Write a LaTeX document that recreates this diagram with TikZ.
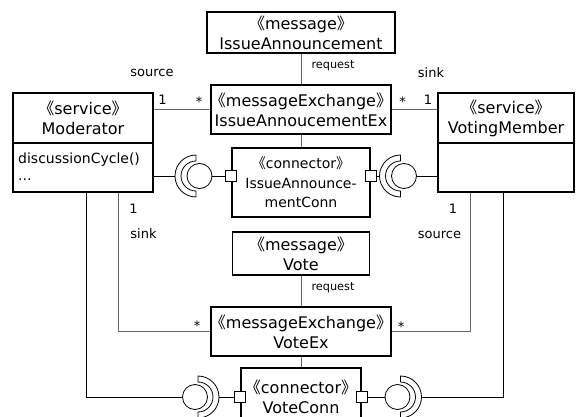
\documentclass[tikz,border=0pt]{standalone}
\usepackage{fontspec}
\setmainfont{DejaVu Sans}
\newfontfamily\cjkbr[RawFeature=+halt]{Noto Sans CJK SC}
\usetikzlibrary{calc}
% UML stereotype in double angle brackets
\newcommand\stereo[1]{{\cjkbr\kern1pt《}#1{\cjkbr 》\kern1pt}}

\begin{document}
\begin{tikzpicture}[x=1pt,y=-1pt,
  box/.style={draw=black,line width=1.5pt,inner sep=0pt,align=center,
              font=\fontsize{16}{20}\selectfont},
  assoc/.style={draw=black!60,line width=0.9pt},
  asm/.style={draw=black,line width=0.8pt},
  lbl/.style={font=\fontsize{13}{15}\selectfont,anchor=base,inner sep=0pt},
  req/.style={font=\fontsize{11.3}{13}\selectfont,anchor=base,inner sep=0pt},
  optext/.style={font=\fontsize{14}{17}\selectfont,anchor=base west,inner sep=0pt},
  port/.style={draw=black,line width=0.8pt,fill=white,minimum size=11pt,inner sep=0pt},
  ball/.style={draw=black,line width=0.8pt,circle,minimum size=25pt,inner sep=0pt},
  % required-interface sockets: half annulus opening right / left
  sockR/.pic={\draw[asm] (90:21) arc[start angle=90,end angle=270,radius=21]
               -- (270:15) arc[start angle=270,end angle=90,radius=15] -- cycle;},
  sockL/.pic={\draw[asm] (90:21) arc[start angle=90,end angle=-90,radius=21]
               -- (-90:15) arc[start angle=-90,end angle=90,radius=15] -- cycle;},
 ]
\useasboundingbox (0,0) rectangle (576,417);
\fill[white] (0,0) rectangle (576,417);

% messages and exchanges
\node[box,minimum width=188pt,minimum height=41pt] (ia) at (301,32.5)
  {\stereo{message}\\IssueAnnouncement};
\node[box,minimum width=180pt,minimum height=49pt] (iaex) at (301,109.5)
  {\stereo{messageExchange}\\IssueAnnoucementEx};
\node[box,minimum width=138pt,minimum height=69pt,
      font=\fontsize{14}{19.5}\selectfont] (ianc) at (301,182.5)
  {\stereo{connector}\\IssueAnnounce-\\mentConn};
\node[box,minimum width=137pt,minimum height=43pt] (vote) at (301,253.5)
  {\stereo{message}\\Vote};
\node[box,minimum width=180pt,minimum height=49pt] (voteex) at (301,331.5)
  {\stereo{messageExchange}\\VoteEx};
\node[box,minimum width=120pt,minimum height=58pt] (vconn) at (301,397)
  {\stereo{connector}\\VoteConn};

% services
\node[box,minimum width=140pt,minimum height=50pt] (modhead) at (83,118)
  {\stereo{service}\\Moderator};
\node[box,minimum width=140pt,minimum height=49pt] (modops) at (83,167.5) {};
\node[optext] (opcycle) at (18,164) {discussionCycle()};
\node[optext] (opmore) at (18,181) {...};
\node[box,minimum width=136pt,minimum height=50pt] (vmhead) at (506,118)
  {\stereo{service}\\VotingMember};
\node[box,minimum width=136pt,minimum height=49pt] (vmops) at (506,167.5) {};

% associations
\draw[assoc] (ia.south) -- (iaex.north);
\draw[assoc] (iaex.south) -- (ianc.north);
\draw[assoc] (vote.south) -- (voteex.north);
\draw[assoc] (voteex.south) -- (vconn.north);
\draw[assoc] (iaex.west) -- (iaex.west -| modhead.east);
\draw[assoc] (iaex.east) -- (iaex.east -| vmhead.west);
\coordinate (mA) at ($(modops.south west)+(106,0)$);
\coordinate (mB) at ($(modops.south west)+(74,0)$);
\coordinate (vA) at ($(vmops.south west)+(33,0)$);
\coordinate (vB) at ($(vmops.south west)+(66,0)$);
\draw[assoc] (mA) |- (voteex.west);
\draw[assoc] (vA) |- (voteex.east);

% assembly connectors: upper pair
\coordinate (bUL) at (199.5,176);
\coordinate (sUL) at ($(bUL)+(-24.5,0)$);
\node[ball] (cUL) at (bUL) {};
\pic at ($(bUL)+(-3.5,0)$) {sockR};
\node[port] (pUL) at (ianc.west |- bUL) {};
\draw[asm] (cUL.east) -- (pUL.west);
\draw[asm] (sUL) -- (sUL -| modops.east);

\coordinate (bUR) at (404,176);
\coordinate (sUR) at ($(bUR)+(-24.5,0)$);
\node[ball] (cUR) at (bUR) {};
\pic at ($(bUR)+(-3.5,0)$) {sockR};
\node[port] (pUR) at (ianc.east |- bUR) {};
\draw[asm] (pUR.east) -- (sUR);
\draw[asm] (cUR.east) -- (cUR.east -| vmops.west);

% assembly connectors: lower pair
\coordinate (bLL) at (195,397);
\coordinate (sLL) at ($(bLL)+(24,0)$);
\node[ball] (cLL) at (bLL) {};
\pic at ($(bLL)+(3,0)$) {sockL};
\node[port] (pLL) at (vconn.west |- bLL) {};
\draw[asm] (sLL) -- (pLL.west);
\draw[asm] (mB) |- (cLL.west);

\coordinate (bLR) at (397.5,397);
\coordinate (sLR) at ($(bLR)+(24,0)$);
\node[ball] (cLR) at (bLR) {};
\pic at ($(bLR)+(3,0)$) {sockL};
\node[port] (pLR) at (vconn.east |- bLR) {};
\draw[asm] (pLR.east) -- (cLR.west);
\draw[asm] (vB) |- (sLR);

% role names and multiplicities
\node[lbl] (srcU) at (152,77) {source};
\node[lbl] (sinkU) at (431,78) {sink};
\node[lbl] (m1) at (162.5,105) {1};
\node[lbl] (m2) at (199,107) {*};
\node[lbl] (m3) at (402.5,107) {*};
\node[lbl] (m4) at (428,105) {1};
\node[req] (rq1) at (333,69) {request};
\node[req] (rq2) at (333,290) {request};
\node[lbl] (m5) at (133.5,213) {1};
\node[lbl] (sinkL) at (143.5,238) {sink};
\node[lbl] (m6) at (453,213) {1};
\node[lbl] (srcL) at (439.5,238) {source};
\node[lbl] (m7) at (197,330) {*};
\node[lbl] (m8) at (401,331) {*};
\end{tikzpicture}
\end{document}
